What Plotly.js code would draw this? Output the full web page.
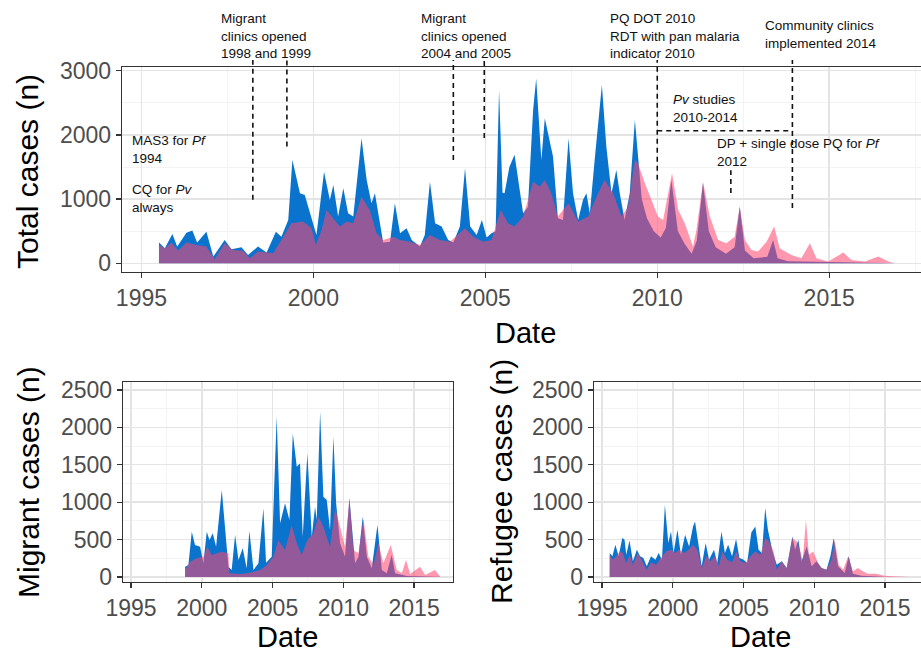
<!DOCTYPE html>
<html>
<head>
<meta charset="utf-8">
<script src="https://cdn.plot.ly/plotly-3.0.1.min.js"></script>
<style>html,body{margin:0;padding:0;background:#fff;}#chart{width:921px;height:660px;}</style>
</head>
<body>
<div id="chart"></div>
<script>
// ---------- DATA ----------
const xTickVals = [1995, 2000, 2005, 2010, 2015];
const xTickText = ['1995', '2000', '2005', '2010', '2015'];
const xMinorVals = [1992.5, 1997.5, 2002.5, 2007.5, 2012.5, 2017.5];
const totalYTicks = [0, 1000, 2000, 3000];
const totalYMinor = [500, 1500, 2500];
const subYTicks = [0, 500, 1000, 1500, 2000, 2500];
const subYMinor = [250, 750, 1250, 1750, 2250];

// Total cases - P. vivax (blue)
const totalPvYear = [1995.51,1995.68,1995.90,1996.04,1996.31,1996.48,1996.62,1996.89,1997.09,1997.42,1997.62,1997.91,1998.10,1998.39,1998.64,1998.91,1999.07,1999.27,1999.39,1999.61,1999.75,1999.95,2000.09,2000.31,2000.48,2000.58,2000.72,2000.87,2001.01,2001.16,2001.40,2001.55,2001.69,2001.79,2002.03,2002.23,2002.37,2002.52,2002.71,2002.86,2003.10,2003.24,2003.39,2003.54,2003.73,2003.92,2004.07,2004.26,2004.41,2004.56,2004.75,2004.90,2005.04,2005.18,2005.30,2005.40,2005.50,2005.56,2005.70,2005.85,2006.10,2006.24,2006.39,2006.48,2006.63,2006.73,2006.87,2006.97,2007.11,2007.26,2007.42,2007.55,2007.70,2007.84,2007.94,2008.04,2008.18,2008.39,2008.52,2008.67,2008.81,2008.91,2009.05,2009.20,2009.35,2009.44,2009.55,2009.70,2009.90,2010.10,2010.25,2010.41,2010.60,2010.80,2011.00,2011.15,2011.33,2011.50,2011.70,2012.00,2012.25,2012.40,2012.55,2012.80,2013.20,2013.37,2013.50,2013.80,2014.50,2015.40,2016.90];
const totalPvCases = [322,234,457,260,477,509,322,493,104,363,218,249,130,260,166,493,415,675,1609,1090,1064,675,441,1427,986,1220,727,1168,779,727,1946,1298,934,1090,322,337,934,467,545,363,260,441,1272,623,571,363,322,571,1479,571,441,675,400,467,500,2700,1100,1090,1500,1690,779,882,2387,2880,1609,2258,1920,1661,701,675,1946,1090,675,986,1090,779,1609,2777,1817,1090,1453,1090,675,1090,2232,1609,1000,700,500,400,550,1298,500,300,150,350,1246,500,250,150,250,882,200,80,100,363,80,30,20,15,0];

// Total cases - P. falciparum (pink)
const totalPfYear = [1995.51,1995.68,1995.87,1996.07,1996.31,1996.60,1996.89,1997.13,1997.42,1997.67,1997.96,1998.15,1998.39,1998.83,1999.07,1999.36,1999.70,1999.95,2000.07,2000.24,2000.38,2000.58,2000.77,2000.97,2001.16,2001.40,2001.64,2001.84,2002.03,2002.32,2002.52,2002.81,2003.10,2003.39,2003.68,2003.97,2004.41,2004.65,2004.94,2005.18,2005.45,2005.66,2005.85,2006.10,2006.39,2006.58,2006.73,2006.92,2007.11,2007.42,2007.70,2007.99,2008.28,2008.47,2008.72,2008.96,2009.15,2009.35,2009.44,2009.64,2009.83,2010.02,2010.17,2010.43,2010.61,2010.80,2011.04,2011.14,2011.33,2011.53,2011.77,2012.01,2012.25,2012.40,2012.55,2012.74,2012.93,2013.18,2013.40,2013.56,2013.90,2014.19,2014.44,2014.63,2014.97,2015.41,2015.65,2016.04,2016.43,2016.72,2016.91];
const totalPfCases = [285,230,322,200,322,285,260,62,311,208,197,78,182,156,363,623,649,545,285,519,830,701,571,649,623,1038,830,467,363,415,363,337,285,441,363,337,545,415,337,363,830,623,571,727,1272,1194,1298,1090,727,934,649,727,1090,1298,1090,727,882,1609,1557,1246,986,727,675,1401,830,623,260,519,1272,727,363,311,415,882,363,208,182,337,571,234,130,78,311,78,26,166,52,26,104,26,0];

// Migrant cases - P. vivax (blue)
const migrantPvYear = [1998.82,1999.05,1999.29,1999.52,1999.88,2000.11,2000.35,2000.54,2000.77,2001.01,2001.41,2001.64,2001.88,2002.11,2002.35,2002.59,2002.89,2003.17,2003.36,2003.65,2004.00,2004.35,2004.54,2004.94,2005.29,2005.53,2005.88,2006.19,2006.43,2006.71,2006.94,2007.13,2007.46,2007.77,2008.00,2008.12,2008.36,2008.59,2008.83,2009.06,2009.30,2009.49,2009.77,2010.12,2010.43,2010.83,2011.07,2011.37,2011.66,2012.01,2012.41,2012.72,2013.07,2013.42,2013.66,2014.50,2016.80];
const migrantPvCases = [138,160,606,428,405,183,606,495,584,405,1163,673,138,94,561,227,383,116,619,94,183,918,192,272,2143,717,985,762,1920,1475,1520,539,1653,539,940,762,2210,1074,1029,628,1876,985,450,272,1052,183,272,807,272,116,695,94,49,294,49,13,0];

// Migrant cases - P. falciparum (pink)
const migrantPfYear = [1998.82,1999.17,1999.64,2000.11,2000.39,2000.70,2001.05,2001.41,2001.88,2001.95,2002.70,2003.41,2004.12,2004.59,2005.06,2005.41,2005.88,2006.35,2006.71,2007.06,2007.46,2007.89,2008.24,2008.59,2009.06,2009.42,2009.77,2010.12,2010.43,2010.71,2011.07,2011.42,2011.77,2012.13,2012.48,2012.83,2013.35,2013.78,2014.13,2014.43,2014.72,2015.42,2015.78,2016.48,2016.84];
const migrantPfCases = [94,205,250,272,405,294,316,339,316,49,40,58,94,160,272,495,361,695,450,294,495,584,807,673,405,920,673,405,1052,361,316,784,272,160,450,183,428,94,49,227,40,138,27,94,5];

// Refugee cases - P. vivax (blue)
const refugeePvYear = [1995.54,1995.73,1995.94,1996.17,1996.43,1996.59,1996.71,1996.94,1997.18,1997.46,1997.69,1997.92,1998.16,1998.46,1998.77,1999.00,1999.23,1999.44,1999.68,1999.87,2000.05,2000.33,2000.57,2000.87,2001.15,2001.43,2001.57,2001.81,2002.04,2002.32,2002.56,2002.91,2003.14,2003.44,2003.68,2003.91,2004.19,2004.47,2004.71,2005.01,2005.25,2005.55,2005.83,2006.06,2006.30,2006.53,2006.72,2007.05,2007.35,2007.70,2008.05,2008.45,2008.64,2008.87,2009.10,2009.46,2009.81,2010.16,2010.51,2010.86,2011.14,2011.37,2011.68,2012.15,2012.43,2012.73,2013.32,2015.00];
const refugeePvCases = [320,276,431,276,520,498,298,489,209,365,276,254,142,276,231,320,231,965,454,609,320,632,298,565,409,676,743,409,142,454,231,365,187,609,320,431,276,507,254,231,187,596,676,365,320,921,632,342,165,209,120,543,365,498,209,409,142,209,120,98,276,520,142,53,276,44,18,0];

// Refugee cases - P. falciparum (pink)
const refugeePfYear = [1995.54,1995.77,1996.00,1996.24,1996.47,1996.71,1996.94,1997.18,1997.53,1997.83,1998.16,1998.46,1998.81,1999.16,1999.51,1999.87,2000.17,2000.45,2000.80,2001.11,2001.43,2001.74,2002.04,2002.37,2002.67,2002.98,2003.26,2003.49,2003.84,2004.19,2004.50,2004.78,2005.13,2005.48,2005.83,2006.18,2006.53,2006.81,2007.12,2007.35,2007.70,2008.05,2008.45,2008.75,2008.99,2009.18,2009.41,2009.62,2009.92,2010.27,2010.51,2010.86,2011.21,2011.44,2011.73,2012.03,2012.40,2012.73,2013.08,2013.43,2013.78,2014.37,2014.95,2015.54,2016.47,2016.70];
const refugeePfCases = [298,231,276,342,320,187,298,165,320,209,98,196,165,254,342,365,320,365,320,365,431,365,120,276,209,276,142,342,231,196,342,209,187,276,342,298,520,476,342,98,209,120,520,476,365,209,765,298,342,187,120,98,231,498,165,98,276,76,120,76,44,44,18,9,9,0];

// ---------- STYLE ----------
const BLUE = 'rgb(10,115,205)';
const PINK = 'rgba(255,70,110,0.56)';
const FONT = 'Liberation Sans, Arial, Helvetica, sans-serif';

function area(x, y, color, xa, ya) {
  return {x: x, y: y, xaxis: xa, yaxis: ya, type: 'scatter', mode: 'lines',
          fill: 'tozeroy', fillcolor: color, line: {width: 0, color: color},
          hoverinfo: 'skip'};
}

const data = [
  area(totalPvYear, totalPvCases, BLUE, 'x', 'y'),
  area(totalPfYear, totalPfCases, PINK, 'x', 'y'),
  area(migrantPvYear, migrantPvCases, BLUE, 'x2', 'y2'),
  area(migrantPfYear, migrantPfCases, PINK, 'x2', 'y2'),
  area(refugeePvYear, refugeePvCases, BLUE, 'x3', 'y3'),
  area(refugeePfYear, refugeePfCases, PINK, 'x3', 'y3')
];

function xAxis(domain, range, anchor) {
  return {domain: domain, range: range, anchor: anchor, tickmode: 'array',
    tickvals: xTickVals, ticktext: xTickText, ticks: 'outside', ticklen: 5,
    tickwidth: 1.3, tickcolor: '#333', showline: true, linecolor: '#333',
    linewidth: 1.3, mirror: true, showgrid: true, gridcolor: '#e4e4e4',
    gridwidth: 1.4, zeroline: false, automargin: false, fixedrange: true,
    tickfont: {size: 23, family: FONT, color: '#4d4d4d'},
    minor: {tickmode: 'array', tickvals: xMinorVals, showgrid: true,
            gridcolor: '#f0f0f0', gridwidth: 0.8, ticks: ''}};
}
function yAxis(domain, range, anchor, ticks, minor, mirror) {
  return {domain: domain, range: range, anchor: anchor, tickmode: 'array',
    tickvals: ticks, ticks: 'outside', ticklen: 5, tickwidth: 1.3,
    tickcolor: '#333', showline: true, linecolor: '#333', linewidth: 1.3,
    mirror: mirror, showgrid: true, gridcolor: '#e4e4e4', gridwidth: 1.4,
    zeroline: false, automargin: false, fixedrange: true,
    tickfont: {size: 23, family: FONT, color: '#4d4d4d'},
    minor: {tickmode: 'array', tickvals: minor, showgrid: true,
            gridcolor: '#f0f0f0', gridwidth: 0.8, ticks: ''}};
}

const W = 921, H = 660;
const topYDom = [1 - 272 / H, 1 - 67 / H];
const topYRange = [-136, 3058];
function topYPaper(v) {
  return topYDom[0] + (v - topYRange[0]) / (topYRange[1] - topYRange[0]) * (topYDom[1] - topYDom[0]);
}
const lineTop = 1 - 60 / H;

// intervention markers (year, lower end value)
const markerYears = [1998.24, 1999.23, 2004.07, 2004.97, 2010.0, 2013.93];
const markerLows = [990, 1820, 1610, 1950, 1300, 860];

const dash = {color: '#111', width: 1.6, dash: '5px,4px'};
const shapes = markerYears.map((yr, i) => ({type: 'line', xref: 'x', yref: 'paper',
  x0: yr, x1: yr, y0: topYPaper(markerLows[i]), y1: lineTop, line: dash, layer: 'above'}));
shapes.push({type: 'line', xref: 'x', yref: 'y', x0: 2010.0, x1: 2013.93, y0: 2065, y1: 2065, line: dash, layer: 'above'});
shapes.push({type: 'line', xref: 'x', yref: 'y', x0: 2012.14, x1: 2012.14, y0: 1095, y1: 1450, line: dash, layer: 'above'});

function note(text, px, py, size, anchorX) {
  return {text: text, xref: 'paper', yref: 'paper', x: px / W, y: 1 - py / H,
    xanchor: anchorX || 'left', yanchor: 'middle', align: 'left', showarrow: false,
    font: {size: size, family: FONT, color: '#111'}};
}
function title(text, px, py, size, rot) {
  return {text: text, xref: 'paper', yref: 'paper', x: px / W, y: 1 - py / H,
    xanchor: 'center', yanchor: 'middle', showarrow: false, textangle: rot || 0,
    font: {size: size, family: FONT, color: '#000'}};
}

const annotations = [
  note('Migrant<br>clinics opened<br>1998 and 1999', 219, 35.5, 13.5),
  note('Migrant<br>clinics opened<br>2004 and 2005', 419, 35.5, 13.5),
  note('PQ DOT 2010<br>RDT with pan malaria<br>indicator 2010', 608, 35.5, 13.5),
  note('Community clinics<br>implemented 2014', 763, 35, 13.5),
  note('<i>Pv</i> studies<br>2010-2014', 671, 108.5, 13.5),
  note('DP + single dose PQ for <i>Pf</i><br>2012', 715, 152.5, 13.5),
  note('MAS3 for <i>Pf</i><br>1994', 130, 149, 13.5),
  note('CQ for <i>Pv</i><br>always', 130, 198.5, 13.5),
  title('Total cases (n)', 27, 172, 30, -90),
  title('Date', 525, 333, 29),
  title('Migrant cases (n)', 28, 482, 30, -90),
  title('Date', 287, 637, 29),
  title('Refugee cases (n)', 501, 482, 30, -90),
  title('Date', 760, 637, 29)
];

const subYDom = [1 - 582 / H, 1 - 382 / H];
const subYRange = [-67, 2607];

const layout = {
  width: W, height: H, margin: {l: 0, r: 0, t: 0, b: 0},
  paper_bgcolor: '#fff', plot_bgcolor: '#fff', showlegend: false,
  font: {family: FONT, color: '#4d4d4d'},
  xaxis: xAxis([122 / W, 1], [1994.435, 2017.67], 'y'),
  yaxis: yAxis(topYDom, topYRange, 'x', totalYTicks, totalYMinor, false),
  xaxis2: xAxis([123 / W, 453 / W], [1994.43, 2017.75], 'y2'),
  yaxis2: yAxis(subYDom, subYRange, 'x2', subYTicks, subYMinor, true),
  xaxis3: xAxis([594 / W, 1], [1994.43, 2017.54], 'y3'),
  yaxis3: yAxis(subYDom, subYRange, 'x3', subYTicks, subYMinor, false),
  shapes: shapes,
  annotations: annotations
};

Plotly.newPlot('chart', data, layout, {displayModeBar: false, staticPlot: true});
</script>
</body>
</html>
